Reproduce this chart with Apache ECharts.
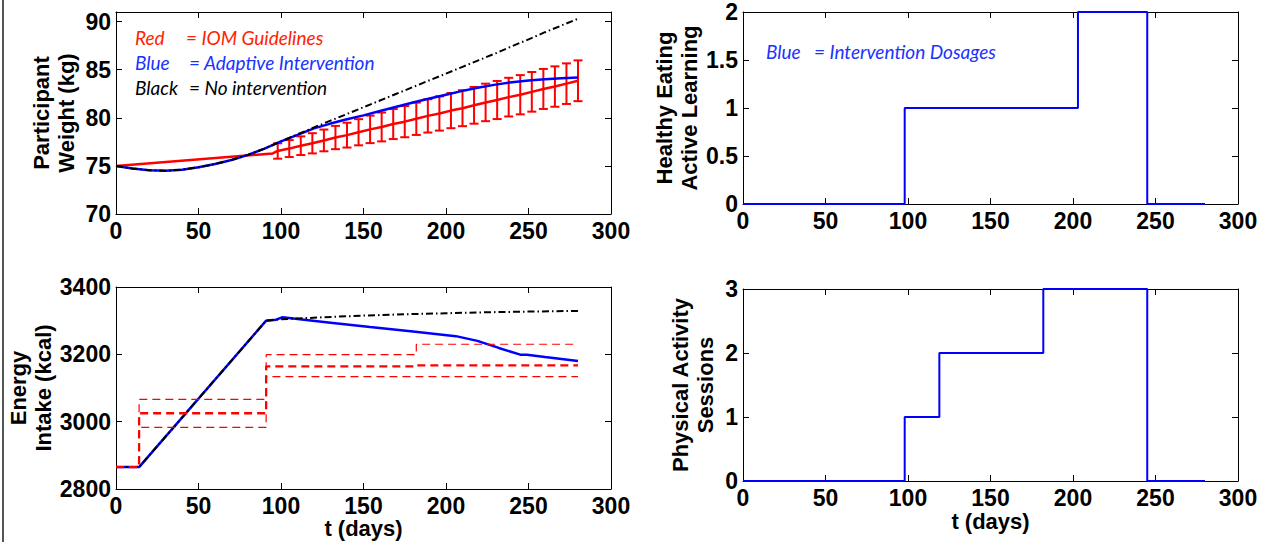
<!DOCTYPE html>
<html>
<head>
<meta charset="utf-8">
<script src="https://cdn.jsdelivr.net/npm/echarts@6/dist/echarts.min.js"></script>
<style>
html,body{margin:0;padding:0;background:#fff;}
#frame{position:absolute;left:2px;top:0;width:2px;height:542px;background:#555;}
#chart{position:absolute;left:0;top:0;width:1263px;height:542px;}
</style>
</head>
<body>
<div id="chart"></div>
<div id="frame"></div>
<script>
// ---------- DATA ----------
// Participant weight (kg)
const weightT      = [0,10,20,30,40,50,60,70,80,90,100,110,120,130,140,150,160,170,180,190,200,210,220,230,240,250,260,270,280];
const weightNoInt  = [75.0,74.72,74.56,74.5,74.6,74.85,75.2,75.62,76.15,76.8,77.55,78.28,79.0,79.7,80.4,81.1,81.8,82.5,83.2,83.9,84.6,85.3,86.0,86.7,87.45,88.15,88.9,89.6,90.3];
const weightAdapt  = [75.0,74.72,74.56,74.5,74.6,74.85,75.2,75.62,76.15,76.8,77.55,78.22,78.9,79.4,79.85,80.25,80.7,81.15,81.6,82.0,82.4,82.8,83.15,83.45,83.7,83.88,84.0,84.1,84.2];
const iomStartT    = [0,95];
const iomStartW    = [75.0,76.3];
const iomT         = [98,105,112,119,126,133,140,147,154,161,168,175,182,189,196,203,210,217,224,231,238,245,252,259,266,273,280];
const iomMean      = [76.55,76.8,77.1,77.35,77.65,77.95,78.2,78.5,78.8,79.05,79.35,79.6,79.9,80.2,80.45,80.75,81.0,81.3,81.6,81.85,82.15,82.4,82.7,83.0,83.25,83.55,83.85];
const iomHalf      = [0.8,0.88,0.97,1.05,1.13,1.21,1.29,1.36,1.43,1.5,1.56,1.62,1.68,1.73,1.78,1.83,1.87,1.91,1.95,1.98,2.01,2.04,2.06,2.08,2.1,2.11,2.12];

// Energy intake (kcal)
const energyNoIntT = [0,14,91,100,125,150,175,200,225,250,280];
const energyNoInt  = [2865,2865,3300,3304,3310,3315,3319,3322,3325,3327,3329];
const energyAdaptT = [0,14,91,97,101,110,130,154,180,206,219,232,245,249,260,280];
const energyAdapt  = [2865,2865,3300,3303,3310,3305,3294,3281,3268,3254,3240,3219,3199,3199,3192,3180];
const energyStepT  = [0,14,91,182,280];
const energyUpper  = [2865,3066,3199,3230,3230];
const energyMid    = [2865,3025,3164,3167,3167];
const energyLower  = [2865,2983,3134,3134,3134];

// Intervention dosages
const heT  = [0,98,203,245,280];
const heV  = [0,1,2,0,0];
const paT  = [0,98,119,182,245,280];
const paV  = [0,1,2,3,0,0];

// Tick settings
const xTicks = {min:0, max:300, interval:50};
const yWeight = {min:70, max:91, interval:5};
const yEnergy = {min:2800, max:3400, interval:200};
const yHE = {min:0, max:2, interval:0.5};
const yPA = {min:0, max:3, interval:1};

// ---------- helpers ----------
const pairs = (xs, ys) => xs.map((x, i) => [x, ys[i]]);
const plain = v => String(v);
const lblFont = {fontSize:23, fontWeight:'bold', fontFamily:'Liberation Sans, Arial, sans-serif', color:'#000'};
const nameFont = {fontSize:22, fontWeight:'bold', fontFamily:'Liberation Sans, Arial, sans-serif', color:'#000', lineHeight:25};
const lineCommon = {show:true, onZero:false, lineStyle:{color:'#000', width:1}};
const tickCommon = {show:true, inside:true, length:6, lineStyle:{color:'#000', width:1}};

const grids = [
  {left:116, top:12,  width:495, height:202},
  {left:743, top:12,  width:495, height:192},
  {left:116, top:287, width:495, height:202},
  {left:743, top:289, width:495, height:192}
];

function xAxes(gi, name, gap) {
  return [
    Object.assign({type:'value', gridIndex:gi, position:'bottom',
      axisLine:lineCommon, axisTick:tickCommon, splitLine:{show:false},
      axisLabel:Object.assign({margin:5, formatter:plain}, lblFont),
      name:name || '', nameLocation:'middle', nameGap:gap || 0,
      nameTextStyle:{fontSize:22, fontWeight:'bold', fontFamily:'Liberation Sans, Arial, sans-serif', color:'#000'}}, xTicks),
    Object.assign({type:'value', gridIndex:gi, position:'top',
      axisLine:lineCommon, axisTick:tickCommon, splitLine:{show:false},
      axisLabel:{show:false}}, xTicks)
  ];
}
function yAxes(gi, ticks, name, gap, hideMax) {
  return [
    Object.assign({type:'value', gridIndex:gi, position:'left',
      axisLine:lineCommon, axisTick:tickCommon, splitLine:{show:false},
      axisLabel:Object.assign({margin:5, showMaxLabel: !hideMax, formatter:plain}, lblFont),
      name:name, nameLocation:'middle', nameRotate:90, nameGap:gap,
      nameTextStyle:nameFont}, ticks),
    Object.assign({type:'value', gridIndex:gi, position:'right',
      axisLine:lineCommon, axisTick:tickCommon, splitLine:{show:false},
      axisLabel:{show:false}}, ticks)
  ];
}

const xAxis = [].concat(
  xAxes(0), xAxes(1), xAxes(2, 't (days)', 27), xAxes(3, 't (days)', 29)
);
const yAxis = [].concat(
  yAxes(0, yWeight, 'Participant\nWeight (kg)', 37, true),
  yAxes(1, yHE, 'Healthy Eating\nActive Learning', 38),
  yAxes(2, yEnergy, 'Energy\nIntake (kcal)', 54),
  yAxes(3, yPA, 'Physical Activity\nSessions', 25)
);

const RED = '#ff0000', BLUE = '#0000ff', BLACK = '#000000';
const dashDot = [7, 3, 1.5, 3];

function lineSeries(xi, yi, data, color, width, type, step) {
  const s = {type:'line', xAxisIndex:xi, yAxisIndex:yi, data:data, symbol:'none', showSymbol:false,
    clip:false, animation:false, silent:true,
    lineStyle:{color:color, width:width, type:type || 'solid'}};
  if (step) s.step = step;
  return s;
}

const errData = iomT.map((t, i) => [t, iomMean[i] - iomHalf[i], iomMean[i] + iomHalf[i]]);

const series = [
  // Top-left: weight
  lineSeries(0, 0, pairs(iomStartT, iomStartW).concat(pairs(iomT, iomMean)), RED, 2.5),
  {type:'custom', xAxisIndex:0, yAxisIndex:0, data:errData, animation:false, silent:true,
    encode:{x:0, y:[1,2]},
    renderItem:function(params, api){
      const t = api.value(0);
      const lo = api.coord([t, api.value(1)]);
      const hi = api.coord([t, api.value(2)]);
      const w = 4.5;
      const st = {stroke:RED, lineWidth:2};
      return {type:'group', children:[
        {type:'line', shape:{x1:lo[0], y1:lo[1], x2:hi[0], y2:hi[1]}, style:st},
        {type:'line', shape:{x1:lo[0]-w, y1:lo[1], x2:lo[0]+w, y2:lo[1]}, style:st},
        {type:'line', shape:{x1:hi[0]-w, y1:hi[1], x2:hi[0]+w, y2:hi[1]}, style:st}
      ]};
    }},
  lineSeries(0, 0, pairs(weightT, weightAdapt), BLUE, 2.5),
  lineSeries(0, 0, pairs(weightT, weightNoInt), BLACK, 2, dashDot),

  // Top-right: healthy eating
  lineSeries(2, 2, pairs(heT, heV), BLUE, 2, 'solid', 'end'),

  // Bottom-left: energy intake
  lineSeries(4, 4, pairs(energyAdaptT, energyAdapt), BLUE, 2.5),
  lineSeries(4, 4, pairs(energyNoIntT, energyNoInt), BLACK, 2, dashDot),
  lineSeries(4, 4, pairs(energyStepT, energyUpper), RED, 1.2, [8,5], 'end'),
  lineSeries(4, 4, pairs(energyStepT, energyLower), RED, 1.2, [8,5], 'end'),
  lineSeries(4, 4, pairs(energyStepT, energyMid), RED, 2.3, [8,5], 'end'),

  // Bottom-right: physical activity
  lineSeries(6, 6, pairs(paT, paV), BLUE, 2, 'solid', 'end')
];

const legendFont = 'italic 19px Lato, "Open Sans", sans-serif';
function txt(x, y, text, color) {
  return {type:'text', x:x, y:y, silent:true,
    style:{text:text, fill:color, font:legendFont, textVerticalAlign:'middle', textAlign:'left'}};
}
const graphic = [
  txt(135, 37, 'Red', '#ff2200'), txt(186, 37, '= IOM Guidelines', '#ff2200'),
  txt(135, 62, 'Blue', '#1a33ff'), txt(189, 62, '= Adaptive Intervention', '#1a33ff'),
  txt(135, 87, 'Black', '#000'), txt(189, 87, '= No intervention', '#000'),
  txt(766, 51, 'Blue', '#1a33ff'), txt(814, 51, '= Intervention Dosages', '#1a33ff')
];

const chart = echarts.init(document.getElementById('chart'), null, {renderer:'svg'});
chart.setOption({
  animation:false,
  backgroundColor:'#fff',
  grid:grids,
  xAxis:xAxis,
  yAxis:yAxis,
  series:series,
  graphic:graphic
});
</script>
</body>
</html>
